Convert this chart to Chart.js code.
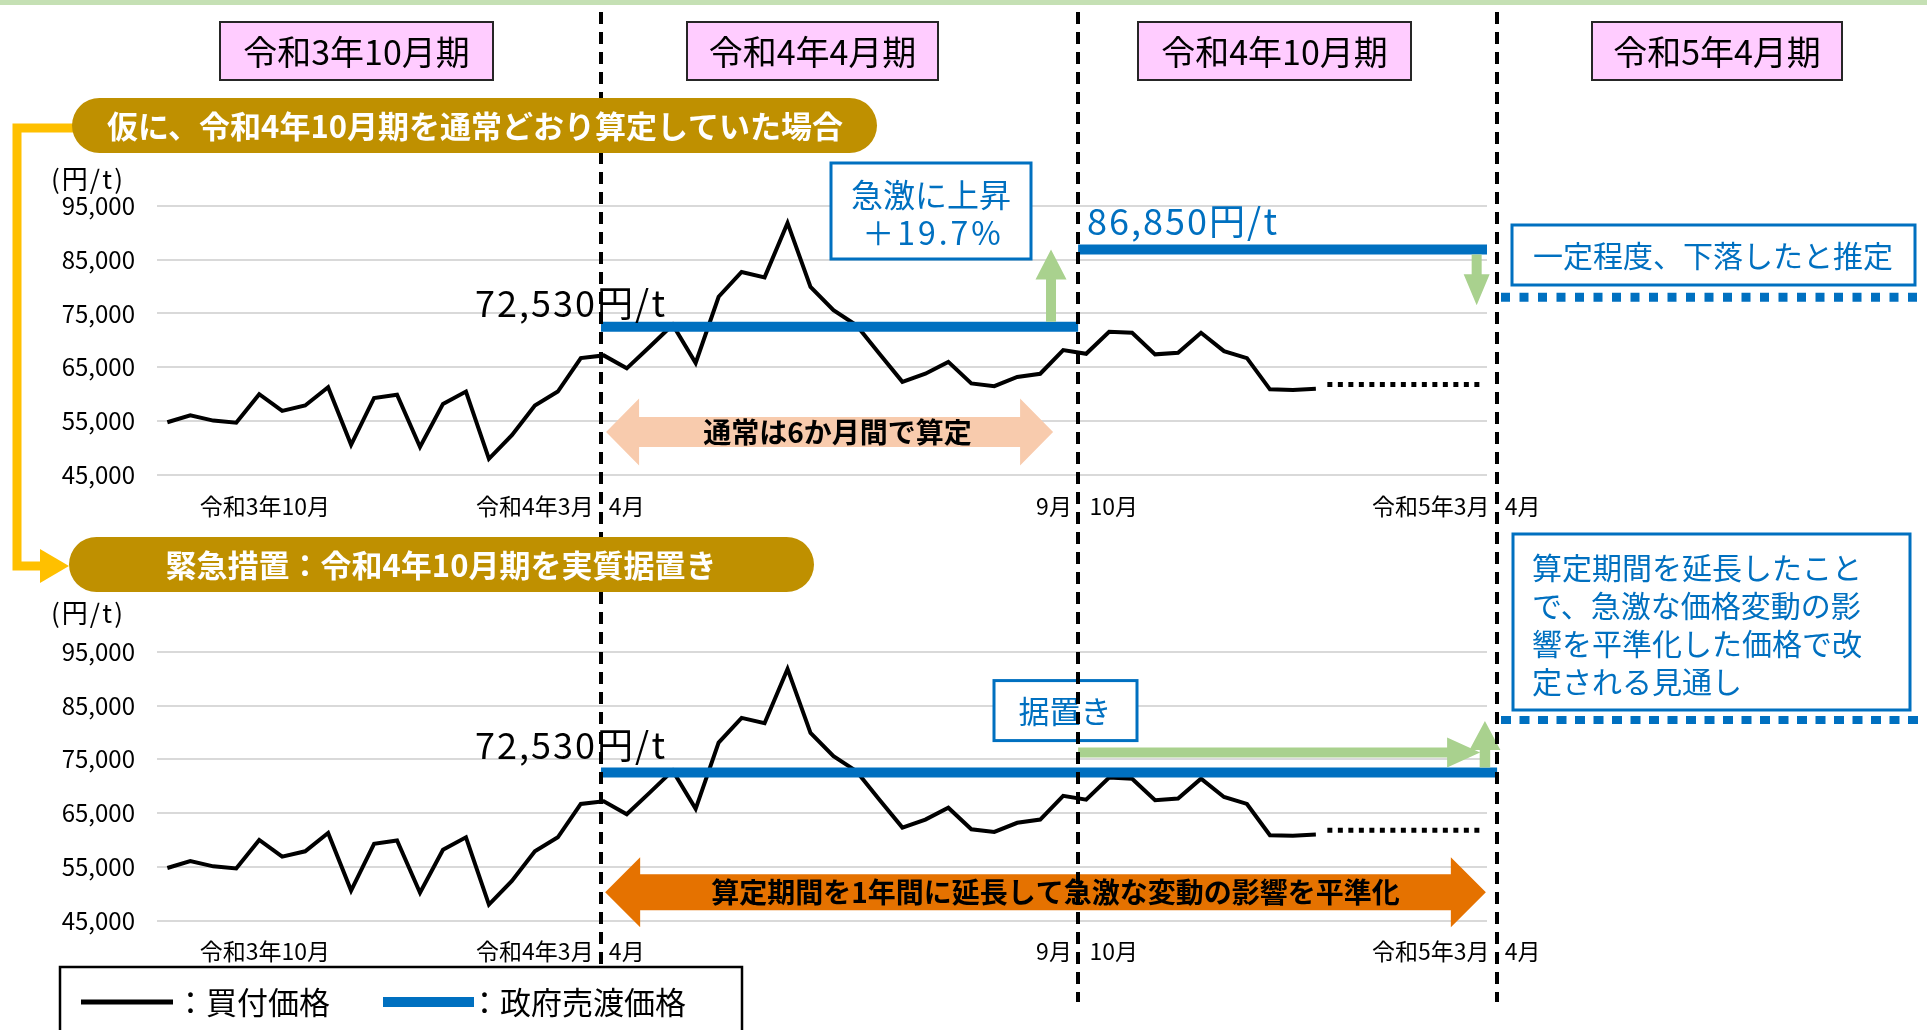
<!DOCTYPE html>
<html lang="ja">
<head>
<meta charset="utf-8">
<title>政府売渡価格の算定</title>
<script src="https://cdn.jsdelivr.net/npm/chart.js@4.4.1/dist/chart.umd.min.js"></script>
<style>
  html, body { margin: 0; padding: 0; background: #fff; overflow: hidden; }
  #wrap { position: relative; width: 1927px; height: 1030px; }
  #wrap canvas { position: absolute; left: 0; top: 0; }
</style>
</head>
<body>
<div id="wrap">
  <canvas id="chartTop" width="1927" height="1030"></canvas>
  <canvas id="chartBottom" width="1927" height="1030"></canvas>
</div>
<script>
// 買付価格（円/t）: 時系列の各観測点
const buyPrice = [
  54800, 56100, 55100, 54700, 60000, 56900, 57900, 61300, 50600, 59300,
  59900, 50200, 58200, 60500, 48000, 52400, 57900, 60500, 66700, 67200,
  64800, 68800, 72900, 65800, 78100, 82700, 81700, 91800, 79900, 75600,
  72800, 67500, 62300, 63800, 66000, 62000, 61500, 63200, 63800, 68200,
  67500, 71600, 71400, 67400, 67700, 71400, 68000, 66700, 60900, 60800,
  61000
];
// 政府売渡価格（円/t）: 令和4年4月期, 通常算定の場合の令和4年10月期
const salePrice = [72530, 86850];
// 売渡価格の期の区切り（観測点の通し番号で表した位置）
const periodBounds = [18.88, 39.65, 57.89];
const periodNames = ['令和3年10月期', '令和4年4月期', '令和4年10月期', '令和5年4月期'];
// 買付価格の今後の見込み（点線）
const outlookRange = [50.5, 57.2];
const outlookValue = 61800;
// 次期改定の見込み水準（上段: 下落推定, 下段: 平準化後）
const estimateLevels = [78000, 82300];
// 軸の目盛
const xTickValues = [4.25, 16, 20, 38.6, 41.2, 55, 59];
const xTickLabels = ['令和3年10月', '令和4年3月', '4月', '9月', '10月', '令和5年3月', '4月'];
const yTickValues = [45000, 55000, 65000, 75000, 85000, 95000];

const FONT = '"Noto Sans CJK JP", "Noto Sans", sans-serif';
const BLUE = '#0070c0', GREEN = '#a9d18e', PEACH = '#f8cbad', ORANGE = '#e57200';
const GOLD = '#bf9000', YELLOW = '#ffc000', PINK = '#ffccff';
const yen = v => v.toLocaleString('en-US') + '円/t';

function txt(ctx, s, x, y, size, color, opt = {}) {
  ctx.save();
  ctx.font = (opt.bold ? 'bold ' : '') + size + 'px ' + FONT;
  ctx.fillStyle = color;
  ctx.textAlign = opt.align || 'left';
  ctx.textBaseline = opt.baseline || 'middle';
  if (opt.spacing) ctx.letterSpacing = opt.spacing + 'px';
  ctx.fillText(s, x, y);
  ctx.restore();
}

function rectBox(ctx, x, y, w, h, fill, stroke, lw) {
  ctx.save();
  ctx.fillStyle = fill;
  ctx.fillRect(x, y, w, h);
  ctx.strokeStyle = stroke;
  ctx.lineWidth = lw;
  ctx.strokeRect(x, y, w, h);
  ctx.restore();
}

function pill(ctx, x, y, w, h, fill) {
  const r = h / 2;
  ctx.save();
  ctx.beginPath();
  ctx.moveTo(x + r, y);
  ctx.lineTo(x + w - r, y);
  ctx.arc(x + w - r, y + r, r, -Math.PI / 2, Math.PI / 2);
  ctx.lineTo(x + r, y + h);
  ctx.arc(x + r, y + r, r, Math.PI / 2, Math.PI * 1.5);
  ctx.closePath();
  ctx.fillStyle = fill;
  ctx.fill();
  ctx.restore();
}

// single-headed block arrow from (x1,y1) to the tip (x2,y2)
function arrow(ctx, x1, y1, x2, y2, shaft, head, headLen, color) {
  const dx = x2 - x1, dy = y2 - y1, len = Math.hypot(dx, dy);
  const ux = dx / len, uy = dy / len, nx = -uy, ny = ux;
  const bx = x2 - ux * headLen, by = y2 - uy * headLen;
  ctx.save();
  ctx.beginPath();
  ctx.moveTo(x1 + nx * shaft / 2, y1 + ny * shaft / 2);
  ctx.lineTo(bx + nx * shaft / 2, by + ny * shaft / 2);
  ctx.lineTo(bx + nx * head / 2, by + ny * head / 2);
  ctx.lineTo(x2, y2);
  ctx.lineTo(bx - nx * head / 2, by - ny * head / 2);
  ctx.lineTo(bx - nx * shaft / 2, by - ny * shaft / 2);
  ctx.lineTo(x1 - nx * shaft / 2, y1 - ny * shaft / 2);
  ctx.closePath();
  ctx.fillStyle = color;
  ctx.fill();
  ctx.restore();
}

// horizontal double-headed block arrow
function doubleArrow(ctx, xl, xr, yc, body, head, headLen, color) {
  ctx.save();
  ctx.beginPath();
  ctx.moveTo(xl, yc);
  ctx.lineTo(xl + headLen, yc - head / 2);
  ctx.lineTo(xl + headLen, yc - body / 2);
  ctx.lineTo(xr - headLen, yc - body / 2);
  ctx.lineTo(xr - headLen, yc - head / 2);
  ctx.lineTo(xr, yc);
  ctx.lineTo(xr - headLen, yc + head / 2);
  ctx.lineTo(xr - headLen, yc + body / 2);
  ctx.lineTo(xl + headLen, yc + body / 2);
  ctx.lineTo(xl + headLen, yc + head / 2);
  ctx.closePath();
  ctx.fillStyle = color;
  ctx.fill();
  ctx.restore();
}

function dottedLine(ctx, x1, x2, y, width, dash, color) {
  ctx.save();
  ctx.strokeStyle = color;
  ctx.lineWidth = width;
  ctx.lineCap = 'butt';
  ctx.setLineDash(dash);
  ctx.beginPath();
  ctx.moveTo(x1, y);
  ctx.lineTo(x2, y);
  ctx.stroke();
  ctx.restore();
}

// datasets shared by both panels
function lineDatasets(saleSegments) {
  const ds = [
    {
      label: '買付価格',
      data: buyPrice.map((v, i) => ({ x: i, y: v })),
      borderColor: '#000', borderWidth: 4, pointRadius: 0, tension: 0,
      borderJoinStyle: 'miter', order: 2
    },
    {
      label: '見込み',
      data: outlookRange.map(x => ({ x, y: outlookValue })),
      borderColor: '#000', borderWidth: 5, borderDash: [5, 5.5], borderCapStyle: 'butt',
      pointRadius: 0, order: 2
    }
  ];
  saleSegments.forEach(seg => ds.push({
    label: '政府売渡価格',
    data: [{ x: seg.from, y: seg.value }, { x: seg.to, y: seg.value }],
    borderColor: BLUE, borderWidth: 10, borderCapStyle: 'butt', pointRadius: 0,
    order: 1, clip: seg.clip
  }));
  return ds;
}

// chart area: x 157..1487, y from top to bottom (canvas pixels)
function chartConfig(areaTop, areaBottom, saleSegments, plugin) {
  const axisH = 60;
  return {
    type: 'line',
    data: { datasets: lineDatasets(saleSegments) },
    options: {
      responsive: false,
      animation: false,
      devicePixelRatio: 1,
      layout: { padding: { left: 0, right: 440, top: areaTop, bottom: 1030 - areaBottom - axisH } },
      plugins: { legend: { display: false }, tooltip: { enabled: false } },
      scales: {
        x: {
          type: 'linear', min: -0.45, max: 57.45, bounds: 'data',
          grid: { display: false }, border: { display: false },
          afterFit: s => { s.height = axisH; },
          afterBuildTicks: s => { s.ticks = xTickValues.map(v => ({ value: v })); },
          ticks: {
            autoSkip: false, maxRotation: 0, minRotation: 0, padding: 9, color: '#000',
            font: { size: 23, family: FONT },
            callback: (v, i) => xTickLabels[i]
          }
        },
        y: {
          type: 'linear', min: 45000, max: 95000,
          afterFit: s => { s.width = 157; },
          afterBuildTicks: s => { s.ticks = yTickValues.map(v => ({ value: v })); },
          grid: { color: '#d9d9d9', lineWidth: 2, drawTicks: false },
          border: { display: false },
          ticks: {
            padding: 22, color: '#000', font: { size: 24, family: FONT },
            callback: v => v.toLocaleString('en-US')
          }
        }
      }
    },
    plugins: [plugin]
  };
}

// annotations of the upper panel (normal 6-month calculation)
const upperNotes = {
  id: 'upperNotes',
  afterDraw(chart) {
    const { ctx, chartArea } = chart;
    const x = chart.scales.x, y = chart.scales.y;
    txt(ctx, '(円/t)', 88, chartArea.top - 27, 26, '#000', { align: 'center', spacing: 2 });

    const yA = y.getPixelForValue(salePrice[0]);
    const yB = y.getPixelForValue(salePrice[1]);
    txt(ctx, yen(salePrice[0]), 475, yA - 10, 36, '#000', { baseline: 'alphabetic', spacing: 2 });
    txt(ctx, yen(salePrice[1]), x.getPixelForValue(periodBounds[1]) + 9, yB - 15, 36, BLUE,
        { baseline: 'alphabetic', spacing: 2 });

    // 通常の算定期間（6か月）
    const xl = x.getPixelForValue(19.1), xr = x.getPixelForValue(38.56);
    const yc = y.getPixelForValue(53000);
    doubleArrow(ctx, xl, xr, yc, 30, 67, 33, PEACH);
    txt(ctx, '通常は6か月間で算定', (xl + xr) / 2 + 8, yc, 28, '#000', { bold: true, align: 'center' });

    // 上昇を示す矢印と注記
    const xu = x.getPixelForValue(38.47);
    arrow(ctx, xu, yA - 5, xu, yB, 10, 31, 30, GREEN);
    rectBox(ctx, 831, 163, 200, 96, '#fff', BLUE, 3);
    const rise = ((salePrice[1] / salePrice[0] - 1) * 100).toFixed(1);
    txt(ctx, '急激に上昇', 931, 195, 32, BLUE, { align: 'center' });
    txt(ctx, '＋' + rise + '%', 933, 233, 32, BLUE, { align: 'center', spacing: 3 });

    // 下落の推定
    const yE = y.getPixelForValue(estimateLevels[0]);
    const xd = x.getPixelForValue(57.0);
    arrow(ctx, xd, yB + 5, xd, yE + 8, 10, 26, 31, GREEN);
    rectBox(ctx, 1512, 225, 403, 60, '#fff', BLUE, 3);
    txt(ctx, '一定程度、下落したと推定', 1713, 256, 30, BLUE, { align: 'center' });
    dottedLine(ctx, 1501, 1922, yE, 9, [9, 9.5], BLUE);
  }
};

// page-wide elements: period headers, boundaries, banners, legend
function pageFrame(ctx, x, chart) {
  ctx.save();
  ctx.fillStyle = '#c5e0b4';
  ctx.fillRect(0, 0, 1927, 5);

  ctx.strokeStyle = '#000';
  ctx.lineWidth = 4;
  ctx.setLineDash([12, 8]);
  periodBounds.forEach(b => {
    const px = Math.round(x.getPixelForValue(b));
    ctx.beginPath();
    ctx.moveTo(px, 12);
    ctx.lineTo(px, 1002);
    ctx.stroke();
  });
  ctx.restore();

  const headers = [[220, 273], [687, 251], [1138, 273], [1592, 250]];
  headers.forEach(([hx, hw], i) => {
    rectBox(ctx, hx, 22, hw, 58, PINK, '#262626', 2);
    txt(ctx, periodNames[i], hx + hw / 2, 52, 34, '#000', { align: 'center' });
  });

  // connector from the first scenario to the emergency measure
  ctx.save();
  ctx.strokeStyle = YELLOW;
  ctx.lineWidth = 9;
  ctx.lineJoin = 'miter';
  ctx.beginPath();
  ctx.moveTo(80, 128);
  ctx.lineTo(17, 128);
  ctx.lineTo(17, 566);
  ctx.lineTo(44, 566);
  ctx.stroke();
  ctx.beginPath();
  ctx.moveTo(40, 549);
  ctx.lineTo(69, 566);
  ctx.lineTo(40, 583);
  ctx.closePath();
  ctx.fillStyle = YELLOW;
  ctx.fill();
  ctx.restore();

  pill(ctx, 72, 98, 805, 55, GOLD);
  txt(ctx, '仮に、令和4年10月期を通常どおり算定していた場合', 475, 126, 31, '#fff', { bold: true, align: 'center' });
  pill(ctx, 69, 537, 745, 55, GOLD);
  txt(ctx, '緊急措置：令和4年10月期を実質据置き', 441, 565, 31, '#fff', { bold: true, align: 'center' });

  // legend
  const dsBuy = chart.data.datasets[0], dsSale = chart.data.datasets[2];
  rectBox(ctx, 60, 967, 682, 80, '#fff', '#000', 2.5);
  ctx.save();
  ctx.lineCap = 'butt';
  ctx.strokeStyle = dsBuy.borderColor;
  ctx.lineWidth = 5;
  ctx.beginPath(); ctx.moveTo(81, 1002); ctx.lineTo(173, 1002); ctx.stroke();
  ctx.strokeStyle = dsSale.borderColor;
  ctx.lineWidth = 10;
  ctx.beginPath(); ctx.moveTo(383, 1002); ctx.lineTo(474, 1002); ctx.stroke();
  ctx.restore();
  txt(ctx, '：' + dsBuy.label, 175, 1002, 31, '#000');
  txt(ctx, '：' + dsSale.label, 469, 1002, 31, '#000');
}

// annotations of the lower panel (emergency measure) plus the page frame
const lowerNotes = {
  id: 'lowerNotes',
  afterDraw(chart) {
    const { ctx, chartArea } = chart;
    const x = chart.scales.x, y = chart.scales.y;
    txt(ctx, '(円/t)', 88, chartArea.top - 39, 26, '#000', { align: 'center', spacing: 2 });

    const yA = y.getPixelForValue(salePrice[0]);
    txt(ctx, yen(salePrice[0]), 475, yA - 14, 36, '#000', { baseline: 'alphabetic', spacing: 2 });

    // 1年間の算定期間
    const xl = x.getPixelForValue(19.06), xr = x.getPixelForValue(57.4);
    const yc = y.getPixelForValue(50300);
    doubleArrow(ctx, xl, xr, yc, 36, 70, 35, ORANGE);
    txt(ctx, '算定期間を1年間に延長して急激な変動の影響を平準化', (xl + xr) / 2 + 10, yc, 28, '#000',
        { bold: true, align: 'center' });

    // 据置き
    const xs = x.getPixelForValue(periodBounds[1]);
    arrow(ctx, xs, yA - 20, x.getPixelForValue(57.15), yA - 20, 10, 30, 33, GREEN);
    const yE = y.getPixelForValue(estimateLevels[1]);
    const xu = x.getPixelForValue(57.36);
    arrow(ctx, xu, yA - 5, xu, yE + 1, 10.5, 31, 29, GREEN);
    rectBox(ctx, 994, yA - 92, 143, 60, '#fff', BLUE, 3);
    txt(ctx, '据置き', 1065, yA - 61, 31, BLUE, { align: 'center' });

    rectBox(ctx, 1513, 534, 397, 176, '#fff', BLUE, 3);
    const lines = ['算定期間を延長したこと', 'で、急激な価格変動の影', '響を平準化した価格で改', '定される見通し'];
    lines.forEach((s, i) => txt(ctx, s, 1532, 568 + i * 38, 30, BLUE));
    dottedLine(ctx, 1501, 1922, yE, 8, [10, 8.5], BLUE);

    pageFrame(ctx, x, chart);
  }
};

const topChart = new Chart(document.getElementById('chartTop'), chartConfig(
  205.7, 475,
  [
    { from: periodBounds[0], to: periodBounds[1], value: salePrice[0] },
    { from: periodBounds[1], to: periodBounds[2], value: salePrice[1] }
  ],
  upperNotes
));

const bottomChart = new Chart(document.getElementById('chartBottom'), chartConfig(
  651.7, 920.7,
  [
    { from: periodBounds[0], to: periodBounds[2], value: salePrice[0], clip: false }
  ],
  lowerNotes
));
</script>
</body>
</html>
